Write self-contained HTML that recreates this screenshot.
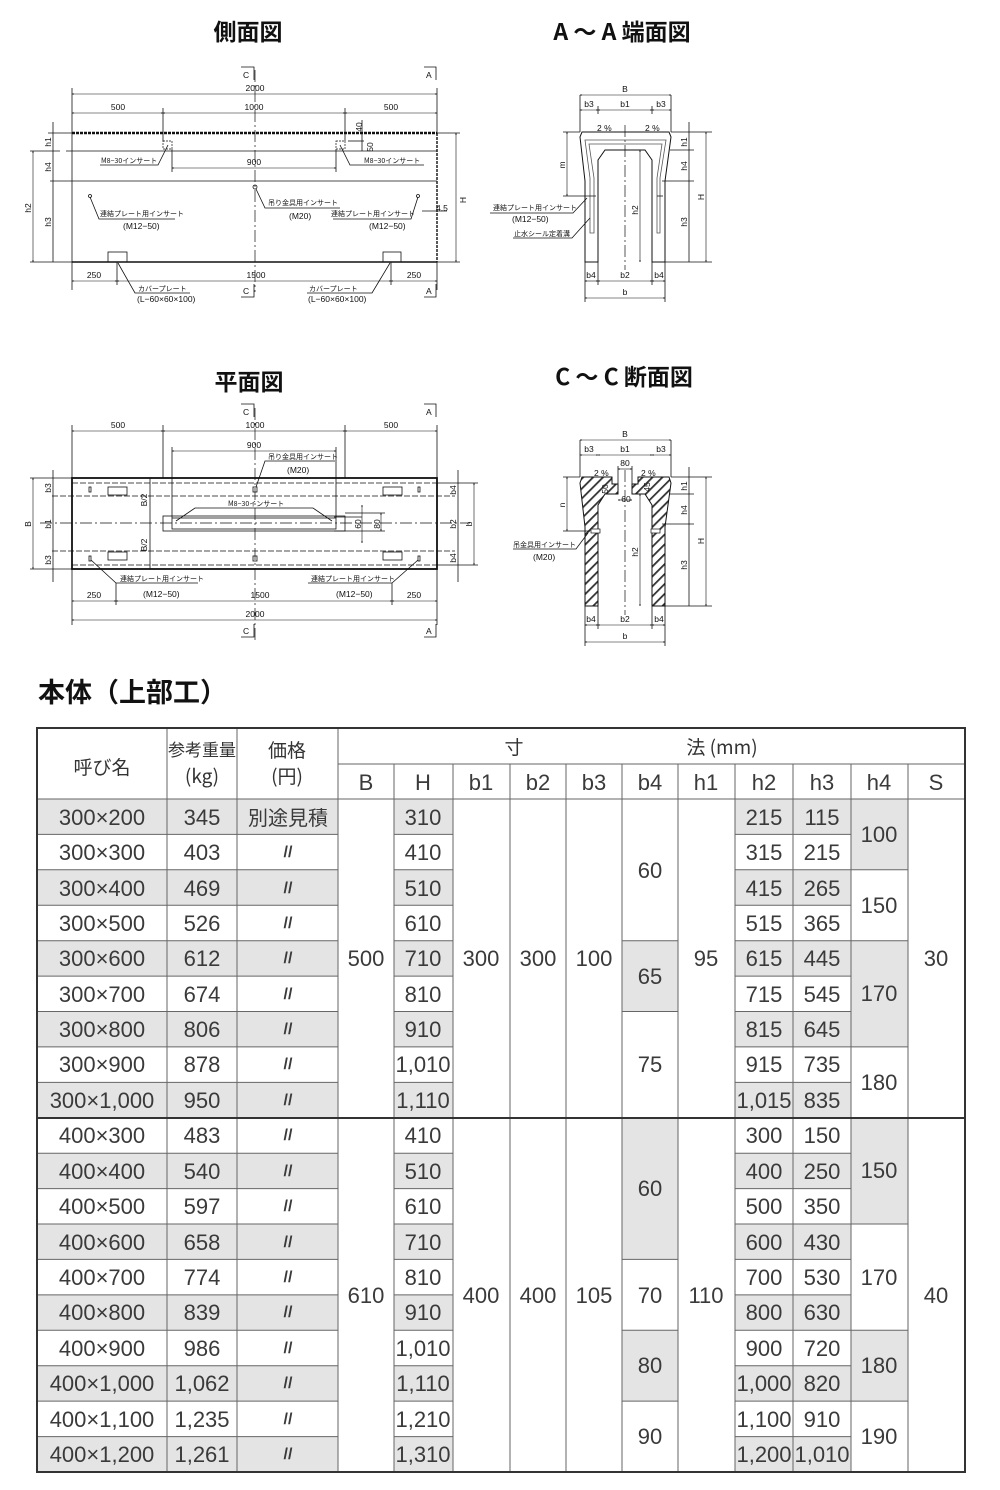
<!DOCTYPE html>
<html><head><meta charset="utf-8"><style>
html,body{margin:0;padding:0;background:#fff;}
svg{display:block;}
.t{font-family:"Liberation Sans","Noto Sans CJK JP",sans-serif;}
.ttl{font-family:"Noto Sans CJK JP",sans-serif;font-weight:bold;font-size:23px;fill:#111;}
.d{font-family:"Liberation Sans","Noto Sans CJK JP",sans-serif;font-size:8.5px;fill:#111;}
.s{font-family:"Noto Sans CJK JP",sans-serif;font-size:7px;fill:#111;}
.tb{font-family:"Liberation Sans Narrow","Liberation Sans","Noto Sans CJK JP",sans-serif;font-size:22px;fill:#3a3a3a;text-anchor:middle;}
.th{font-family:"Noto Sans CJK JP",sans-serif;font-size:19px;fill:#333;text-anchor:middle;}
.ln{stroke:#111;stroke-width:.8;fill:none;}
.bd{stroke:#111;stroke-width:1.6;fill:none;}
.cl{stroke:#111;stroke-width:.7;fill:none;stroke-dasharray:12 3 2 3;}
.dm{stroke:#111;stroke-width:.6;fill:none;marker-start:url(#a);marker-end:url(#a);}
.g{fill:#e4e4e4;}
.tl{stroke:#666;stroke-width:1;}
.dd{font-size:16px;font-weight:bold;}
</style></head><body>
<svg width="1000" height="1490" viewBox="0 0 1000 1490" xmlns="http://www.w3.org/2000/svg">
<defs>
<marker id="a" viewBox="0 0 10 10" refX="5" refY="5" markerWidth="6" markerHeight="6" orient="auto-start-reverse"><path d="M0,3 L5,5 L0,7" fill="none" stroke="#111" stroke-width="1"/></marker>
<pattern id="h" width="7" height="7" patternUnits="userSpaceOnUse" patternTransform="rotate(-45)"><rect width="7" height="7" fill="#fff"/><rect width="7" height="1.8" fill="#333"/></pattern>
</defs>

<text class="ttl" x="248" y="40" text-anchor="middle">側面図</text>
<text class="ttl" x="622" y="40" text-anchor="middle">A ～ A 端面図</text>
<text class="ttl" x="249" y="390" text-anchor="middle">平面図</text>
<text class="ttl" x="624" y="385" text-anchor="middle">C ～ C 断面図</text>
<text class="ttl" x="38" y="702" style="font-size:27px">本体（上部工）</text>

<!-- SIDE VIEW -->
<g>
<line x1="72" y1="133" x2="437" y2="133" stroke="#111" stroke-width="2.6" stroke-dasharray="3 1"/>
<line class="ln" x1="72" y1="133" x2="72" y2="262"/>
<line x1="437" y1="133" x2="437" y2="262" stroke="#111" stroke-width="1.4" stroke-dasharray="3 1"/>
<line class="bd" x1="72" y1="262" x2="437" y2="262"/>
<line class="ln" x1="66" y1="151" x2="437" y2="151"/>
<line class="ln" x1="50" y1="181" x2="437" y2="181"/>
<line class="cl" x1="255" y1="70" x2="255" y2="292"/>
<line class="ln" x1="72" y1="88" x2="72" y2="133"/><line class="ln" x1="437" y1="88" x2="437" y2="133"/>
<line class="ln" x1="163" y1="108" x2="163" y2="141"/><line class="ln" x1="345" y1="108" x2="345" y2="141"/>
<line class="dm" x1="72" y1="94" x2="437" y2="94"/><text class="d" x="255" y="91" text-anchor="middle">2000</text>
<line class="dm" x1="72" y1="113" x2="163" y2="113"/><line class="dm" x1="163" y1="113" x2="345" y2="113"/><line class="dm" x1="345" y1="113" x2="437" y2="113"/>
<text class="d" x="118" y="110" text-anchor="middle">500</text><text class="d" x="254" y="110" text-anchor="middle">1000</text><text class="d" x="391" y="110" text-anchor="middle">500</text>
<rect x="163" y="141" width="9" height="8" fill="none" stroke="#111" stroke-width=".7" stroke-dasharray="2 1"/>
<rect x="336" y="141" width="9" height="8" fill="none" stroke="#111" stroke-width=".7" stroke-dasharray="2 1"/>
<line class="ln" x1="172" y1="149" x2="172" y2="172"/><line class="ln" x1="336" y1="149" x2="336" y2="172"/>
<line class="dm" x1="172" y1="168" x2="336" y2="168"/><text class="d" x="254" y="165" text-anchor="middle">900</text>
<path class="ln" d="M168,145 L158,165 L100,165"/><text class="s" x="101" y="163">M8−30インサート</text>
<path class="ln" d="M340,145 L350,165 L424,165"/><text class="s" x="364" y="163">M8−30インサート</text>
<line class="ln" x1="348" y1="141" x2="364" y2="141"/><line class="ln" x1="362" y1="120" x2="362" y2="151"/>
<text class="d" transform="translate(362,127) rotate(-90)" text-anchor="middle">40</text>
<text class="d" transform="translate(373,147) rotate(-90)" text-anchor="middle">50</text>
<line class="ln" x1="48" y1="133" x2="72" y2="133"/><line class="ln" x1="30" y1="262" x2="72" y2="262"/><line class="ln" x1="30" y1="151" x2="60" y2="151"/>
<line class="ln" x1="53" y1="122" x2="53" y2="262"/>
<line class="dm" x1="33" y1="151" x2="33" y2="262"/>
<text class="d" transform="translate(51,142) rotate(-90)" text-anchor="middle">h1</text>
<text class="d" transform="translate(51,167) rotate(-90)" text-anchor="middle">h4</text>
<text class="d" transform="translate(51,222) rotate(-90)" text-anchor="middle">h3</text>
<text class="d" transform="translate(31,208) rotate(-90)" text-anchor="middle">h2</text>
<line class="ln" x1="437" y1="133" x2="460" y2="133"/><line class="ln" x1="437" y1="262" x2="460" y2="262"/>
<line class="dm" x1="456" y1="133" x2="456" y2="262"/>
<text class="d" transform="translate(466,200) rotate(-90)" text-anchor="middle">H</text>
<text class="d" x="436" y="211">4.5</text><line class="ln" x1="422" y1="211" x2="447" y2="211"/>
<circle cx="90" cy="196" r="1.5" class="ln"/><circle cx="255" cy="187" r="2" class="ln"/><circle cx="418" cy="196" r="1.5" class="ln"/>
<path class="ln" d="M90,197 L99,219 L175,219"/><text class="s" x="100" y="216">連結プレート用インサート</text><text class="d" x="123" y="229">(M12−50)</text>
<path class="ln" d="M256,189 L265,208 L340,208"/><text class="s" x="268" y="205">吊り金具用インサート</text><text class="d" x="289" y="219">(M20)</text>
<path class="ln" d="M418,197 L411,219 L333,219"/><text class="s" x="331" y="216">連結プレート用インサート</text><text class="d" x="369" y="229">(M12−50)</text>
<rect x="108" y="252" width="19" height="10" class="ln"/><rect x="383" y="252" width="18" height="10" class="ln"/>
<line class="ln" x1="72" y1="262" x2="72" y2="290"/><line class="ln" x1="437" y1="262" x2="437" y2="290"/>
<line class="ln" x1="117" y1="262" x2="117" y2="285"/><line class="ln" x1="391" y1="262" x2="391" y2="285"/>
<line class="dm" x1="72" y1="281" x2="117" y2="281"/><line class="dm" x1="117" y1="281" x2="391" y2="281"/><line class="dm" x1="391" y1="281" x2="437" y2="281"/>
<text class="d" x="94" y="278" text-anchor="middle">250</text><text class="d" x="256" y="278" text-anchor="middle">1500</text><text class="d" x="414" y="278" text-anchor="middle">250</text>
<path class="ln" d="M118,263 L135,293 L190,293"/><text class="s" x="138" y="291">カバープレート</text><text class="d" x="137" y="302">(L−60×60×100)</text>
<path class="ln" d="M390,263 L372,293 L307,293"/><text class="s" x="309" y="291">カバープレート</text><text class="d" x="308" y="302">(L−60×60×100)</text>
<path class="ln" d="M241,67 L254,67 L254,80"/><text class="d" x="243" y="78">C</text>
<path class="ln" d="M424,67 L436,67 L436,80"/><text class="d" x="426" y="78">A</text>
<path class="ln" d="M241,297 L254,297 L254,284"/><text class="d" x="243" y="294">C</text>
<path class="ln" d="M424,297 L436,297 L436,284"/><text class="d" x="426" y="294">A</text>
</g>

<!-- PLAN VIEW -->
<g>
<rect x="72" y="478" width="365" height="91" fill="none" stroke="#111" stroke-width="1.8"/>
<line class="cl" x1="72" y1="483" x2="437" y2="483" style="stroke-dasharray:6 2"/>
<line class="cl" x1="52" y1="496" x2="455" y2="496" style="stroke-dasharray:6 2"/>
<line class="cl" x1="40" y1="523" x2="470" y2="523"/>
<line class="cl" x1="52" y1="551" x2="455" y2="551" style="stroke-dasharray:6 2"/>
<line class="cl" x1="72" y1="565" x2="437" y2="565" style="stroke-dasharray:6 2"/>
<line class="cl" x1="255" y1="408" x2="255" y2="640"/>
<line class="ln" x1="72" y1="425" x2="72" y2="478"/><line class="ln" x1="437" y1="425" x2="437" y2="478"/>
<line class="ln" x1="163" y1="425" x2="163" y2="478"/><line class="ln" x1="345" y1="425" x2="345" y2="478"/>
<line class="dm" x1="72" y1="431" x2="163" y2="431"/><line class="dm" x1="163" y1="431" x2="345" y2="431"/><line class="dm" x1="345" y1="431" x2="437" y2="431"/>
<text class="d" x="118" y="428" text-anchor="middle">500</text><text class="d" x="255" y="428" text-anchor="middle">1000</text><text class="d" x="391" y="428" text-anchor="middle">500</text>
<line class="ln" x1="172" y1="447" x2="172" y2="518"/><line class="ln" x1="336" y1="447" x2="336" y2="518"/>
<line class="dm" x1="172" y1="451" x2="336" y2="451"/><text class="d" x="254" y="448" text-anchor="middle">900</text>
<path class="ln" d="M256,487 L265,461 L335,461"/><text class="s" x="268" y="459">吊り金具用インサート</text><text class="d" x="287" y="473">(M20)</text>
<rect x="163" y="516" width="182" height="15" class="ln"/><rect x="172" y="518" width="164" height="11" class="ln"/>
<path class="ln" d="M176,521 L195,508 L313,508 L332,521"/><text class="s" x="228" y="506">M8−30インサート</text>
<line class="ln" x1="150" y1="478" x2="150" y2="569"/>
<text class="d" transform="translate(147,500) rotate(-90)" text-anchor="middle">B/2</text>
<text class="d" transform="translate(147,545) rotate(-90)" text-anchor="middle">B/2</text>
<rect x="108" y="487" width="19" height="8" class="ln"/><rect x="383" y="487" width="19" height="8" class="ln"/>
<rect x="108" y="552" width="19" height="8" class="ln"/><rect x="383" y="552" width="19" height="8" class="ln"/>
<rect x="89" y="487" width="2" height="5" class="ln"/><rect x="418" y="487" width="2" height="5" class="ln"/>
<rect x="89" y="556" width="2" height="5" class="ln"/><rect x="418" y="556" width="2" height="5" class="ln"/>
<rect x="253" y="487" width="4" height="5" class="ln"/><rect x="253" y="556" width="4" height="5" class="ln"/>
<line class="ln" x1="334" y1="517" x2="362" y2="517"/><line class="ln" x1="334" y1="531" x2="385" y2="531"/><line class="ln" x1="345" y1="513" x2="385" y2="513"/>
<line class="dm" x1="362" y1="505" x2="362" y2="543"/><line class="dm" x1="381" y1="513" x2="381" y2="531"/>
<text class="d" transform="translate(361,524) rotate(-90)" text-anchor="middle">60</text>
<text class="d" transform="translate(380,524) rotate(-90)" text-anchor="middle">80</text>
<line class="ln" x1="30" y1="478" x2="72" y2="478"/><line class="ln" x1="30" y1="569" x2="72" y2="569"/>
<line class="dm" x1="33" y1="478" x2="33" y2="569"/><text class="d" transform="translate(31,524) rotate(-90)" text-anchor="middle">B</text>
<line class="ln" x1="53" y1="470" x2="53" y2="582"/>
<text class="d" transform="translate(51,488) rotate(-90)" text-anchor="middle">b3</text>
<text class="d" transform="translate(51,524) rotate(-90)" text-anchor="middle">b1</text>
<text class="d" transform="translate(51,560) rotate(-90)" text-anchor="middle">b3</text>
<line class="ln" x1="437" y1="483" x2="478" y2="483"/><line class="ln" x1="437" y1="565" x2="478" y2="565"/>
<line class="ln" x1="458" y1="470" x2="458" y2="582"/>
<line class="dm" x1="474" y1="483" x2="474" y2="565"/><text class="d" transform="translate(472,524) rotate(-90)" text-anchor="middle">b</text>
<text class="d" transform="translate(456,490) rotate(-90)" text-anchor="middle">b4</text>
<text class="d" transform="translate(456,524) rotate(-90)" text-anchor="middle">b2</text>
<text class="d" transform="translate(456,558) rotate(-90)" text-anchor="middle">b4</text>
<path class="ln" d="M91,560 L116,583 L198,583"/><text class="s" x="120" y="581">連結プレート用インサート</text><text class="d" x="143" y="597">(M12−50)</text>
<path class="ln" d="M418,560 L392,583 L308,583"/><text class="s" x="311" y="581">連結プレート用インサート</text><text class="d" x="336" y="597">(M12−50)</text>
<line class="ln" x1="72" y1="569" x2="72" y2="625"/><line class="ln" x1="437" y1="569" x2="437" y2="625"/>
<line class="ln" x1="116" y1="583" x2="116" y2="605"/><line class="ln" x1="392" y1="583" x2="392" y2="605"/>
<line class="dm" x1="72" y1="601" x2="116" y2="601"/><line class="dm" x1="116" y1="601" x2="392" y2="601"/><line class="dm" x1="392" y1="601" x2="437" y2="601"/>
<text class="d" x="94" y="598" text-anchor="middle">250</text><text class="d" x="260" y="598" text-anchor="middle">1500</text><text class="d" x="414" y="598" text-anchor="middle">250</text>
<line class="dm" x1="72" y1="620" x2="437" y2="620"/><text class="d" x="255" y="617" text-anchor="middle">2000</text>
<path class="ln" d="M241,404 L254,404 L254,417"/><text class="d" x="243" y="415">C</text>
<path class="ln" d="M424,404 L436,404 L436,417"/><text class="d" x="426" y="415">A</text>
<path class="ln" d="M241,637 L254,637 L254,624"/><text class="d" x="243" y="634">C</text>
<path class="ln" d="M424,637 L436,637 L436,624"/><text class="d" x="426" y="634">A</text>
</g>

<!-- A-A -->
<g>
<path class="ln" style="stroke-width:1" d="M585,262 L585,181 L580,137 L582,132 L669,132 L671,137 L665,181 L665,262 L652,262 L652,160 L645,150 L605,150 L598,160 L598,262 Z"/>
<path class="ln" style="stroke:#555" d="M590,233 L590,178 L585,140 L666,140 L660,178 L660,233 L657,233 L657,178 L662,144 L589,144 L594,178 L594,233 Z"/>
<line class="cl" x1="625" y1="125" x2="625" y2="270"/>
<text class="d" x="597" y="131">2 %</text><text class="d" x="645" y="131">2 %</text>
<line class="ln" x1="580" y1="95" x2="580" y2="132"/><line class="ln" x1="671" y1="95" x2="671" y2="132"/>
<line class="dm" x1="580" y1="95" x2="671" y2="95"/><text class="d" x="625" y="92" text-anchor="middle">B</text>
<line class="ln" x1="598" y1="106" x2="598" y2="114"/><line class="ln" x1="652" y1="106" x2="652" y2="114"/>
<line class="dm" x1="580" y1="110" x2="598" y2="110"/><line class="dm" x1="598" y1="110" x2="652" y2="110"/><line class="dm" x1="652" y1="110" x2="671" y2="110"/>
<text class="d" x="589" y="107" text-anchor="middle">b3</text><text class="d" x="625" y="107" text-anchor="middle">b1</text><text class="d" x="661" y="107" text-anchor="middle">b3</text>
<line class="ln" x1="563" y1="132" x2="580" y2="132"/><line class="ln" x1="563" y1="196" x2="596" y2="196"/>
<line class="dm" x1="567" y1="132" x2="567" y2="196"/><text class="d" transform="translate(565,165) rotate(-90)" text-anchor="middle">m</text>
<line class="ln" x1="657" y1="196" x2="663" y2="196"/>
<path class="ln" d="M587,198 L573,213 L490,213"/><text class="s" x="493" y="210">連結プレート用インサート</text><text class="d" x="512" y="222">(M12−50)</text>
<path class="ln" d="M590,218 L572,238 L513,238"/><text class="s" x="514" y="236">止水シール定着溝</text>
<line class="dm" x1="640" y1="150" x2="640" y2="262"/><text class="d" transform="translate(638,210) rotate(-90)" text-anchor="middle">h2</text>
<line class="ln" x1="665" y1="262" x2="712" y2="262"/><line class="ln" x1="671" y1="132" x2="712" y2="132"/>
<line class="ln" x1="670" y1="150" x2="694" y2="150"/><line class="ln" x1="662" y1="181" x2="694" y2="181"/>
<line class="ln" x1="689" y1="122" x2="689" y2="262"/>
<text class="d" transform="translate(687,142) rotate(-90)" text-anchor="middle">h1</text>
<text class="d" transform="translate(687,166) rotate(-90)" text-anchor="middle">h4</text>
<text class="d" transform="translate(687,222) rotate(-90)" text-anchor="middle">h3</text>
<line class="dm" x1="706" y1="132" x2="706" y2="262"/><text class="d" transform="translate(704,197) rotate(-90)" text-anchor="middle">H</text>
<line class="ln" x1="585" y1="262" x2="585" y2="302"/><line class="ln" x1="665" y1="262" x2="665" y2="302"/>
<line class="ln" x1="598" y1="262" x2="598" y2="285"/><line class="ln" x1="652" y1="262" x2="652" y2="285"/>
<line class="dm" x1="585" y1="281" x2="598" y2="281"/><line class="dm" x1="598" y1="281" x2="652" y2="281"/><line class="dm" x1="652" y1="281" x2="665" y2="281"/>
<text class="d" x="591" y="278" text-anchor="middle">b4</text><text class="d" x="625" y="278" text-anchor="middle">b2</text><text class="d" x="659" y="278" text-anchor="middle">b4</text>
<line class="dm" x1="585" y1="298" x2="665" y2="298"/><text class="d" x="625" y="295" text-anchor="middle">b</text>
</g>

<!-- C-C -->
<g>
<path fill="url(#h)" stroke="#111" stroke-width="1" d="M585,606 L585,527 L580,483 L582,477 L612,477 L612,484 L618,484 L618,494 L606,494 L605,494 L598,505 L598,606 Z"/>
<path fill="url(#h)" stroke="#111" stroke-width="1" d="M665,606 L665,527 L671,483 L669,477 L638,477 L638,484 L632,484 L632,494 L645,494 L652,505 L652,606 Z"/>
<rect x="591" y="529" width="9" height="4" fill="#fff" stroke="#111" stroke-width=".7"/>
<rect x="651" y="529" width="9" height="4" fill="#fff" stroke="#111" stroke-width=".7"/>
<line class="cl" x1="625" y1="470" x2="625" y2="615"/>
<text class="d" x="594" y="476">2 %</text><text class="d" x="641" y="476">2 %</text>
<line class="ln" x1="580" y1="440" x2="580" y2="477"/><line class="ln" x1="671" y1="440" x2="671" y2="477"/>
<line class="dm" x1="580" y1="440" x2="671" y2="440"/><text class="d" x="625" y="437" text-anchor="middle">B</text>
<line class="dm" x1="580" y1="455" x2="598" y2="455"/><line class="dm" x1="598" y1="455" x2="652" y2="455"/><line class="dm" x1="652" y1="455" x2="671" y2="455"/>
<text class="d" x="589" y="452" text-anchor="middle">b3</text><text class="d" x="625" y="452" text-anchor="middle">b1</text><text class="d" x="661" y="452" text-anchor="middle">b3</text>
<line class="ln" x1="618" y1="466" x2="618" y2="484"/><line class="ln" x1="632" y1="466" x2="632" y2="484"/>
<line class="dm" x1="618" y1="469" x2="632" y2="469"/><text class="d" x="625" y="466" text-anchor="middle">80</text>
<line class="dm" x1="618" y1="500" x2="632" y2="500"/><text class="d" x="626" y="502" text-anchor="middle">60</text>
<text class="d" transform="translate(608,489) rotate(-90)" text-anchor="middle">50</text>
<text class="d" transform="translate(650,487) rotate(-90)" text-anchor="middle">45</text>
<line class="ln" x1="563" y1="477" x2="580" y2="477"/><line class="ln" x1="563" y1="531" x2="590" y2="531"/>
<line class="dm" x1="567" y1="477" x2="567" y2="531"/><text class="d" transform="translate(565,505) rotate(-90)" text-anchor="middle">n</text>
<path class="ln" d="M588,533 L576,549 L513,549"/><text class="s" x="513" y="547">吊金具用インサート</text><text class="d" x="533" y="560">(M20)</text>
<line class="dm" x1="640" y1="494" x2="640" y2="606"/><text class="d" transform="translate(638,552) rotate(-90)" text-anchor="middle">h2</text>
<line class="ln" x1="665" y1="606" x2="712" y2="606"/><line class="ln" x1="671" y1="477" x2="712" y2="477"/>
<line class="ln" x1="670" y1="494" x2="694" y2="494"/><line class="ln" x1="662" y1="524" x2="694" y2="524"/>
<line class="ln" x1="689" y1="467" x2="689" y2="606"/>
<text class="d" transform="translate(687,486) rotate(-90)" text-anchor="middle">h1</text>
<text class="d" transform="translate(687,510) rotate(-90)" text-anchor="middle">h4</text>
<text class="d" transform="translate(687,565) rotate(-90)" text-anchor="middle">h3</text>
<line class="dm" x1="706" y1="477" x2="706" y2="606"/><text class="d" transform="translate(704,541) rotate(-90)" text-anchor="middle">H</text>
<line class="ln" x1="585" y1="606" x2="585" y2="646"/><line class="ln" x1="665" y1="606" x2="665" y2="646"/>
<line class="ln" x1="598" y1="606" x2="598" y2="629"/><line class="ln" x1="652" y1="606" x2="652" y2="629"/>
<line class="dm" x1="585" y1="625" x2="598" y2="625"/><line class="dm" x1="598" y1="625" x2="652" y2="625"/><line class="dm" x1="652" y1="625" x2="665" y2="625"/>
<text class="d" x="591" y="622" text-anchor="middle">b4</text><text class="d" x="625" y="622" text-anchor="middle">b2</text><text class="d" x="659" y="622" text-anchor="middle">b4</text>
<line class="dm" x1="585" y1="642" x2="665" y2="642"/><text class="d" x="625" y="639" text-anchor="middle">b</text>
</g>

<!-- TABLE -->
<g>
<g class="g">
<rect x="37" y="799" width="301" height="35.4"/><rect x="394" y="799" width="59" height="35.4"/><rect x="735" y="799" width="116" height="35.4"/>
<rect x="37" y="869.8" width="301" height="35.4"/><rect x="394" y="869.8" width="59" height="35.4"/><rect x="735" y="869.8" width="116" height="35.4"/>
<rect x="37" y="940.7" width="301" height="35.4"/><rect x="394" y="940.7" width="59" height="35.4"/><rect x="735" y="940.7" width="116" height="35.4"/>
<rect x="37" y="1011.5" width="301" height="35.4"/><rect x="394" y="1011.5" width="59" height="35.4"/><rect x="735" y="1011.5" width="116" height="35.4"/>
<rect x="37" y="1082.4" width="301" height="35.4"/><rect x="394" y="1082.4" width="59" height="35.4"/><rect x="735" y="1082.4" width="116" height="35.4"/>
<rect x="37" y="1153.2" width="301" height="35.4"/><rect x="394" y="1153.2" width="59" height="35.4"/><rect x="735" y="1153.2" width="116" height="35.4"/>
<rect x="37" y="1224" width="301" height="35.4"/><rect x="394" y="1224" width="59" height="35.4"/><rect x="735" y="1224" width="116" height="35.4"/>
<rect x="37" y="1294.9" width="301" height="35.4"/><rect x="394" y="1294.9" width="59" height="35.4"/><rect x="735" y="1294.9" width="116" height="35.4"/>
<rect x="37" y="1365.7" width="301" height="35.4"/><rect x="394" y="1365.7" width="59" height="35.4"/><rect x="735" y="1365.7" width="116" height="35.4"/>
<rect x="37" y="1436.6" width="301" height="35.4"/><rect x="394" y="1436.6" width="59" height="35.4"/><rect x="735" y="1436.6" width="116" height="35.4"/>
<rect x="622" y="940.7" width="56" height="70.8"/><rect x="622" y="1117.8" width="56" height="141.6"/><rect x="622" y="1330.3" width="56" height="70.8"/>
<rect x="851" y="799" width="57" height="70.8"/><rect x="851" y="940.7" width="57" height="106.2"/><rect x="851" y="1117.8" width="57" height="106.2"/><rect x="851" y="1330.3" width="57" height="70.8"/>
</g>
<g class="tl">
<line x1="338" y1="764" x2="965" y2="764"/>
<line x1="37" y1="799" x2="965" y2="799"/>
<path d="M37,834.4H338M394,834.4H453M735,834.4H851 M37,869.8H338M394,869.8H453M735,869.8H908 M37,905.3H338M394,905.3H453M735,905.3H851 M37,940.7H338M394,940.7H453M622,940.7H678M735,940.7H908 M37,976.1H338M394,976.1H453M735,976.1H851 M37,1011.5H338M394,1011.5H453M622,1011.5H678M735,1011.5H851 M37,1046.9H338M394,1046.9H453M735,1046.9H908 M37,1082.4H338M394,1082.4H453M735,1082.4H851
M37,1153.2H338M394,1153.2H453M735,1153.2H851 M37,1188.6H338M394,1188.6H453M735,1188.6H851 M37,1224H338M394,1224H453M735,1224H908 M37,1259.4H338M394,1259.4H453M622,1259.4H678M735,1259.4H851 M37,1294.9H338M394,1294.9H453M735,1294.9H851 M37,1330.3H338M394,1330.3H453M622,1330.3H678M735,1330.3H908 M37,1365.7H338M394,1365.7H453M735,1365.7H851 M37,1401.1H338M394,1401.1H453M622,1401.1H678M735,1401.1H908 M37,1436.6H338M394,1436.6H453M735,1436.6H851" fill="none"/>
<path d="M167,728V1472M237,728V1472M338,728V1472M394,764V1472M453,764V1472M510,764V1472M566,764V1472M622,764V1472M678,764V1472M735,764V1472M793,764V1472M851,764V1472M908,764V1472" fill="none"/>
</g>
<line x1="37" y1="1118" x2="965" y2="1118" stroke="#333" stroke-width="2"/>
<rect x="37" y="728" width="928" height="744" fill="none" stroke="#333" stroke-width="2"/>
<text class="th" x="102" y="774">呼び名</text>
<text class="th" x="202" y="756" style="font-size:17px">参考重量</text><text class="th" x="202" y="783">(kg)</text>
<text class="th" x="287" y="757">価格</text><text class="th" x="287" y="783">(円)</text>
<text class="th" x="514" y="754">寸</text><text class="th" x="722" y="754">法 (mm)</text>
<text class="tb" x="366" y="790">B</text><text class="tb" x="423" y="790">H</text><text class="tb" x="481" y="790">b1</text><text class="tb" x="538" y="790">b2</text><text class="tb" x="594" y="790">b3</text><text class="tb" x="650" y="790">b4</text><text class="tb" x="706" y="790">h1</text><text class="tb" x="764" y="790">h2</text><text class="tb" x="822" y="790">h3</text><text class="tb" x="879" y="790">h4</text><text class="tb" x="936" y="790">S</text>
<g class="tb">
<text x="102" y="825">300×200</text><text x="102" y="860">300×300</text><text x="102" y="896">300×400</text><text x="102" y="931">300×500</text><text x="102" y="966">300×600</text><text x="102" y="1002">300×700</text><text x="102" y="1037">300×800</text><text x="102" y="1072">300×900</text><text x="102" y="1108">300×1,000</text>
<text x="102" y="1143">400×300</text><text x="102" y="1179">400×400</text><text x="102" y="1214">400×500</text><text x="102" y="1250">400×600</text><text x="102" y="1285">400×700</text><text x="102" y="1320">400×800</text><text x="102" y="1356">400×900</text><text x="102" y="1391">400×1,000</text><text x="102" y="1427">400×1,100</text><text x="102" y="1462">400×1,200</text>
<text x="202" y="825">345</text><text x="202" y="860">403</text><text x="202" y="896">469</text><text x="202" y="931">526</text><text x="202" y="966">612</text><text x="202" y="1002">674</text><text x="202" y="1037">806</text><text x="202" y="1072">878</text><text x="202" y="1108">950</text>
<text x="202" y="1143">483</text><text x="202" y="1179">540</text><text x="202" y="1214">597</text><text x="202" y="1250">658</text><text x="202" y="1285">774</text><text x="202" y="1320">839</text><text x="202" y="1356">986</text><text x="202" y="1391">1,062</text><text x="202" y="1427">1,235</text><text x="202" y="1462">1,261</text>
<text x="288" y="825" style="font-family:'Noto Sans CJK JP',sans-serif;font-size:20px">別途見積</text>
<text class="dd" x="288" y="857">//</text><text class="dd" x="288" y="893">//</text><text class="dd" x="288" y="928">//</text><text class="dd" x="288" y="963">//</text><text class="dd" x="288" y="999">//</text><text class="dd" x="288" y="1034">//</text><text class="dd" x="288" y="1069">//</text><text class="dd" x="288" y="1105">//</text>
<text class="dd" x="288" y="1140">//</text><text class="dd" x="288" y="1176">//</text><text class="dd" x="288" y="1211">//</text><text class="dd" x="288" y="1247">//</text><text class="dd" x="288" y="1282">//</text><text class="dd" x="288" y="1317">//</text><text class="dd" x="288" y="1353">//</text><text class="dd" x="288" y="1388">//</text><text class="dd" x="288" y="1424">//</text><text class="dd" x="288" y="1459">//</text>
<text x="366" y="966">500</text><text x="366" y="1303">610</text>
<text x="423" y="825">310</text><text x="423" y="860">410</text><text x="423" y="896">510</text><text x="423" y="931">610</text><text x="423" y="966">710</text><text x="423" y="1002">810</text><text x="423" y="1037">910</text><text x="423" y="1072">1,010</text><text x="423" y="1108">1,110</text>
<text x="423" y="1143">410</text><text x="423" y="1179">510</text><text x="423" y="1214">610</text><text x="423" y="1250">710</text><text x="423" y="1285">810</text><text x="423" y="1320">910</text><text x="423" y="1356">1,010</text><text x="423" y="1391">1,110</text><text x="423" y="1427">1,210</text><text x="423" y="1462">1,310</text>
<text x="481" y="966">300</text><text x="538" y="966">300</text><text x="594" y="966">100</text><text x="706" y="966">95</text><text x="936" y="966">30</text>
<text x="481" y="1303">400</text><text x="538" y="1303">400</text><text x="594" y="1303">105</text><text x="706" y="1303">110</text><text x="936" y="1303">40</text>
<text x="650" y="878">60</text><text x="650" y="984">65</text><text x="650" y="1072">75</text>
<text x="650" y="1196">60</text><text x="650" y="1303">70</text><text x="650" y="1373">80</text><text x="650" y="1444">90</text>
<text x="764" y="825">215</text><text x="764" y="860">315</text><text x="764" y="896">415</text><text x="764" y="931">515</text><text x="764" y="966">615</text><text x="764" y="1002">715</text><text x="764" y="1037">815</text><text x="764" y="1072">915</text><text x="764" y="1108">1,015</text>
<text x="764" y="1143">300</text><text x="764" y="1179">400</text><text x="764" y="1214">500</text><text x="764" y="1250">600</text><text x="764" y="1285">700</text><text x="764" y="1320">800</text><text x="764" y="1356">900</text><text x="764" y="1391">1,000</text><text x="764" y="1427">1,100</text><text x="764" y="1462">1,200</text>
<text x="822" y="825">115</text><text x="822" y="860">215</text><text x="822" y="896">265</text><text x="822" y="931">365</text><text x="822" y="966">445</text><text x="822" y="1002">545</text><text x="822" y="1037">645</text><text x="822" y="1072">735</text><text x="822" y="1108">835</text>
<text x="822" y="1143">150</text><text x="822" y="1179">250</text><text x="822" y="1214">350</text><text x="822" y="1250">430</text><text x="822" y="1285">530</text><text x="822" y="1320">630</text><text x="822" y="1356">720</text><text x="822" y="1391">820</text><text x="822" y="1427">910</text><text x="822" y="1462">1,010</text>
<text x="879" y="842">100</text><text x="879" y="913">150</text><text x="879" y="1001">170</text><text x="879" y="1090">180</text>
<text x="879" y="1178">150</text><text x="879" y="1285">170</text><text x="879" y="1373">180</text><text x="879" y="1444">190</text>
</g>
</g>
</svg>
</body></html>
